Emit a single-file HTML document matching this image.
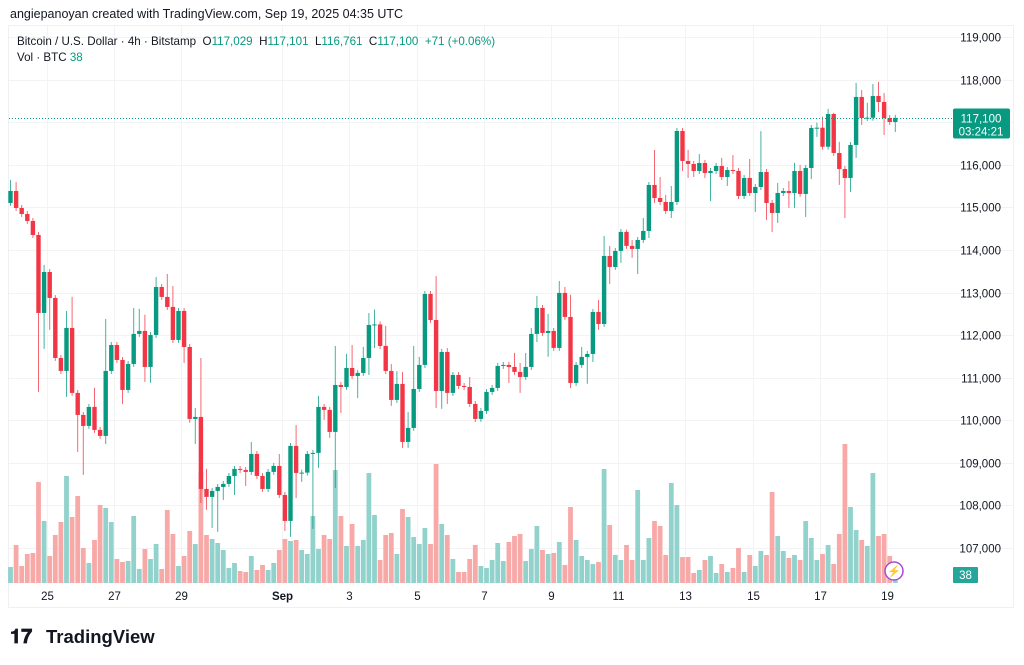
<!DOCTYPE html>
<html><head><meta charset="utf-8"><style>
html,body{margin:0;padding:0;background:#fff;width:1024px;height:665px;overflow:hidden}
svg text{font-family:"Liberation Sans",sans-serif}
</style></head><body>
<svg id="chart" width="1024" height="665" viewBox="0 0 1024 665" xmlns="http://www.w3.org/2000/svg">
<rect x="0" y="0" width="1024" height="665" fill="#fff"/>
<text x="10" y="18" font-size="12.5" fill="#131722">angiepanoyan created with TradingView.com, Sep 19, 2025 04:35 UTC</text>
<rect x="8.5" y="25.5" width="1005" height="582" fill="none" stroke="#eef0f3"/>
<g id="grid"></g>
<g id="vols"></g>
<g id="candles"></g>
<g id="axes"></g>
<text x="17" y="45" font-size="11.6" fill="#131722" xml:space="preserve">Bitcoin / U.S. Dollar · 4h · Bitstamp  O<tspan fill="#089981">117,029</tspan>  H<tspan fill="#089981">117,101</tspan>  L<tspan fill="#089981">116,761</tspan>  C<tspan fill="#089981">117,100</tspan>  <tspan fill="#089981">+71 (+0.06%)</tspan></text>
<text x="17" y="61" font-size="11.6" fill="#131722">Vol · BTC <tspan fill="#089981">38</tspan></text>
<g>
<text x="10" y="643" font-size="20" font-weight="bold" fill="#131722">𝟏𝟕</text>
<text x="46" y="643" font-size="18.5" font-weight="bold" fill="#131722">TradingView</text>
</g>
</svg>
<script>
const NS='http://www.w3.org/2000/svg';
const firstOpen=115103;
const closes=[115384,114985,114844,114680,114351,112520,113482,112872,111463,111158,112168,110642,110125,109867,110313,109773,109632,111158,111768,111416,110712,111322,112027,112097,111252,112003,113130,112896,112661,111886,112567,111721,110031,110078,108387,108200,108340,108434,108505,108692,108857,108833,108787,109209,108692,108387,108787,108927,108246,107636,109397,108763,108770,109209,109233,110313,110243,109726,110829,110782,111228,111040,111111,111463,112238,112250,111745,111158,110477,110853,109491,109820,110735,111299,112966,112355,110688,111604,110642,111064,110806,110782,110383,110031,110219,110665,110759,111275,111299,111252,111135,111017,111252,112027,112637,112050,112097,111698,112990,112426,110876,111299,111487,111557,112543,112261,113858,113600,113976,114423,114094,114023,114234,114445,115525,115220,115126,114915,115126,116793,116089,116018,115854,116041,115807,115854,115971,115713,115877,115854,115267,115690,115337,115478,115830,115103,114868,115337,115384,115337,115854,115314,115924,116864,116870,116423,117192,116277,115901,115690,116465,117592,117098,117105,117615,117474,117098,117004,117100];
const upperWick=[260,210,70,70,70,70,165,70,70,70,400,730,70,70,70,450,70,1220,70,70,70,70,610,520,380,70,235,70,540,490,70,70,70,210,1385,470,70,70,70,70,70,70,70,280,70,70,70,70,280,70,70,490,70,70,70,260,70,70,915,70,330,540,70,260,280,350,70,470,160,300,280,375,1010,190,70,70,1030,70,90,70,70,70,235,70,70,70,70,70,70,70,330,210,330,140,280,70,400,70,280,140,520,70,235,70,70,280,470,235,70,70,50,140,70,305,70,820,490,165,375,70,70,260,70,210,70,70,70,190,70,350,70,70,445,70,960,70,70,235,70,235,190,140,70,70,120,260,120,30,260,70,70,330,165,350,280,330,210,70,70];
const lowerWick=[70,70,70,70,70,1855,845,750,70,70,610,70,870,1150,70,70,70,190,70,70,330,70,70,70,350,375,70,70,70,70,70,375,90,590,330,305,730,960,305,70,445,70,330,70,70,70,70,70,70,235,375,590,210,70,1760,350,235,140,1315,610,70,70,520,70,400,540,70,70,140,70,140,140,70,70,70,70,400,420,260,70,70,70,70,70,70,70,70,70,70,375,70,375,70,70,190,70,560,70,70,70,120,70,70,630,190,140,70,400,70,280,70,210,590,70,165,120,70,70,165,70,235,330,140,70,120,660,70,70,210,70,70,70,70,445,70,400,445,235,70,350,350,70,540,260,210,70,70,70,375,940,330,305,165,70,70,235,400,70,235];
const volumes=[16,38,17,29,30,101,62,27,48,61,107,66,87,35,20,43,78,75,61,24,21,22,67,14,34,24,39,14,73,49,17,27,52,39,111,48,44,40,33,15,20,12,11,27,13,18,13,20,33,44,42,43,33,29,67,34,48,44,113,67,37,59,37,43,110,68,23,48,50,29,74,66,46,39,55,39,119,59,48,24,11,11,24,38,17,15,23,40,22,41,47,49,22,34,57,33,29,30,41,18,76,43,27,23,19,21,114,58,28,23,38,23,93,23,45,62,57,28,100,78,26,26,10,13,23,27,10,19,11,15,35,11,28,17,32,28,91,47,32,25,28,23,62,45,23,29,38,19,49,139,76,53,43,37,110,47,49,27,3];
const priceTicks=[107000,108000,109000,110000,111000,112000,113000,114000,115000,116000,117000,118000,119000];
const dateLabels=['25','27','29','Sep','3','5','7','9','11','13','15','17','19'];
const dateCandleIdx=[6.5,18.5,30.5,48.5,60.5,72.5,84.5,96.5,108.5,120.5,132.5,144.5,156.5];
const lastPrice=117100;

const yP=p=>37+(119000-p)*(511/12000);
const xC=i=>10.5+5.6*i;
const volBase=583, volScale=1.0;
const yV=v=>volBase-v*volScale;
const UP='#089981', DN='#f23645', UPV='#92d2cc', DNV='#f7a9a7';
function mk(tag,attrs,parent){const e=document.createElementNS(NS,tag);for(const k in attrs)e.setAttribute(k,attrs[k]);parent.appendChild(e);return e;}
const grid=document.getElementById('grid'),cg=document.getElementById('candles'),vg=document.getElementById('vols'),ax=document.getElementById('axes');
priceTicks.forEach(p=>{
  const y=Math.round(yP(p))+0.5;
  const l=mk('line',{x1:9,x2:1013,y1:y,y2:y,stroke:'#f2f3f5'},grid);
  
  
  const t=mk('text',{x:1001,y:y+4,'font-size':11.5,fill:'#131722','text-anchor':'end'},ax);
  t.textContent=p.toLocaleString('en-US');
  
  
});
dateLabels.forEach((d,k)=>{
  const x=Math.round(xC(dateCandleIdx[k]))+0.5;
  const l=mk('line',{x1:x,x2:x,y1:26,y2:585,stroke:'#f2f3f5'},grid);
  
  
  const t=mk('text',{x:x,y:600,'font-size':11.5,fill:'#131722','text-anchor':'middle','font-weight':d==='Sep'?'bold':'normal'},ax);
  t.textContent=d;
  
  
});
let prev=firstOpen;
closes.forEach((c,i)=>{
  const o=prev; prev=c;
  const up=c>=o, col=up?UP:DN, x=xC(i);
  const hi=Math.max(o,c)+upperWick[i], lo=Math.min(o,c)-lowerWick[i];
  const vb=mk('rect',{x:x-2.4,y:yV(volumes[i]),width:4.8,height:volumes[i]*volScale,fill:up?UPV:DNV},vg);
  
  
  const w=mk('line',{x1:x,x2:x,y1:yP(hi),y2:yP(lo),stroke:col,'stroke-width':1,opacity:0.75},cg);
  
  
  const top=yP(Math.max(o,c)), h=Math.max(1,yP(Math.min(o,c))-top);
  const b=mk('rect',{x:x-2.2,y:top,width:4.4,height:h,fill:col},cg);
  
  
});
const ly=Math.round(yP(lastPrice))+0.5;
const pl=mk('line',{x1:9,x2:953,y1:ly,y2:ly,stroke:'#089981','stroke-dasharray':'1,2'},ax);


const pb=mk('rect',{x:953,y:ly-10,width:57,height:30,rx:2,fill:'#089981'},ax);


const pt=mk('text',{x:981,y:ly+4,'font-size':11.5,fill:'#fff','text-anchor':'middle'},ax);
pt.textContent='117,100';


const ct=mk('text',{x:981,y:ly+17,'font-size':11.5,fill:'#fff','text-anchor':'middle'},ax);
ct.textContent='03:24:21';


const vbx=mk('rect',{x:953,y:567,width:25,height:16,rx:1,fill:'#26a69a'},ax);


const vt=mk('text',{x:965.5,y:579,'font-size':11.5,fill:'#fff','text-anchor':'middle'},ax);
vt.textContent='38';


const ic=mk('circle',{cx:894,cy:571,r:9,fill:'#fff',stroke:'#a64bd6','stroke-width':1.5},ax);


const bolt=mk('text',{x:894,y:575,'font-size':11,fill:'#a64bd6','text-anchor':'middle'},ax);
bolt.textContent='⚡';


</script>
</body></html>
